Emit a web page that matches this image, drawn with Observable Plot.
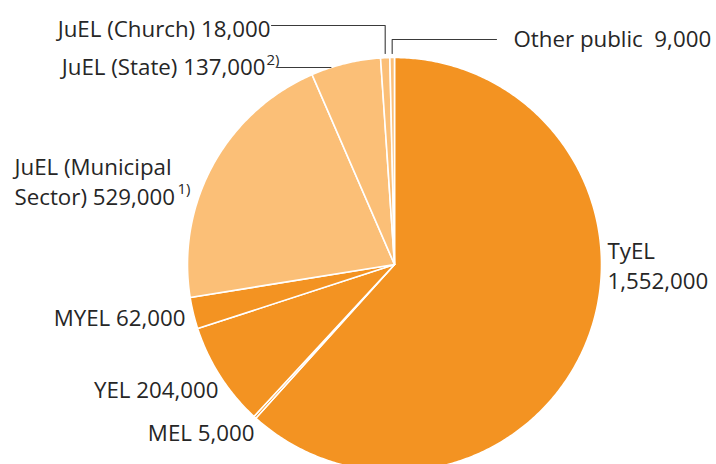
<!DOCTYPE html>
<html>
<head>
<meta charset="utf-8">
<script src="https://cdn.jsdelivr.net/npm/d3@7"></script>
<script src="https://cdn.jsdelivr.net/npm/@observablehq/plot@0.6"></script>
<style>
  html, body { margin: 0; padding: 0; background: #fff; }
  #chart svg { display: block; }
</style>
</head>
<body>
<div id="chart"></div>
<script>
// ---- data ----
const names  = ["TyEL", "MEL", "YEL", "MYEL", "JuEL (Municipal Sector)", "JuEL (State)", "JuEL (Church)", "Other public"];
const values = [1552000, 5000, 204000, 62000, 529000, 137000, 18000, 9000];
const sectors = ["private", "private", "private", "private", "public", "public", "public", "public"];
const notes  = ["", "", "", "", "1)", "2)", "", ""];

// ---- layout (pixel offsets from pie centre, y up) ----
const W = 716, H = 464, CX = 394, CY = 264, R = 207;
const font = "Open Sans";
const fs = 22.3;
const fmt = d3.format(",");

const labelLayout = [
  {i: 0, text: (n, v) => `${n}\n${fmt(v)}`, x: 607, y: 288, anchor: "start"},
  {i: 1, text: (n, v) => `${n} ${fmt(v)}`, x: 254, y: 440, anchor: "end"},
  {i: 2, text: (n, v) => `${n} ${fmt(v)}`, x: 218, y: 397, anchor: "end"},
  {i: 3, text: (n, v) => `${n} ${fmt(v)}`, x: 185, y: 325, anchor: "end"},
  {i: 4, text: (n, v) => `JuEL (Municipal\nSector) ${fmt(v)}`, x: 14, y: 204, anchor: "start", sup: {x: 177, y: 193}},
  {i: 5, text: (n, v) => `${n} ${fmt(v)}`, x: 265, y: 74, anchor: "end", sup: {x: 266, y: 64}},
  {i: 6, text: (n, v) => `${n} ${fmt(v)}`, x: 270, y: 36, anchor: "end"},
  {i: 7, text: (n, v) => `${n}\u00a0 ${fmt(v)}`, x: 513, y: 46, anchor: "start"}
];

// ---- pie geometry from values ----
const arcs = d3.pie().sort(null).value(d => d)(values);
const slicePts = [];
arcs.forEach((a, i) => {
  const n = Math.max(2, Math.ceil((a.endAngle - a.startAngle) / 0.01));
  slicePts.push({k: i, x: 0, y: 0, s: sectors[i]});
  for (let j = 0; j <= n; j++) {
    const t = a.startAngle + (a.endAngle - a.startAngle) * j / n;
    slicePts.push({k: i, x: R * Math.sin(t), y: R * Math.cos(t), s: sectors[i]});
  }
  slicePts.push({k: i, x: 0, y: 0, s: sectors[i]});
});

const mid = i => (arcs[i].startAngle + arcs[i].endAngle) / 2;
const px = x => x - CX, py = y => CY - y;

// leader lines
const churchX = R * Math.sin(mid(6));
const otherX = R * Math.sin(mid(7));
const stateY = py(67);
const stateX = -Math.sqrt(R * R - stateY * stateY);
const leaders = [
  {k: "church", x: px(271), y: py(25)}, {k: "church", x: churchX, y: py(25)}, {k: "church", x: churchX, y: R + 4},
  {k: "other", x: otherX, y: R + 4}, {k: "other", x: otherX, y: py(39)}, {k: "other", x: px(496), y: py(39)},
  {k: "state", x: px(277), y: stateY}, {k: "state", x: stateX, y: stateY}
];

const labels = labelLayout.map(l => ({
  t: l.text(names[l.i], values[l.i]), x: px(l.x), y: py(l.y), anchor: l.anchor
}));
const sups = labelLayout.filter(l => l.sup).map(l => ({t: notes[l.i], x: px(l.sup.x), y: py(l.sup.y)}));

const chart = Plot.plot({
  width: W, height: H,
  margin: 0,
  x: {domain: [-CX, W - CX], range: [0, W], axis: null},
  y: {domain: [CY - H, CY], range: [H, 0], axis: null},
  color: {domain: ["private", "public"], range: ["#F39322", "#FBBF77"]},
  style: {fontFamily: font, background: "#fff"},
  marks: [
    Plot.line(slicePts, {x: "x", y: "y", z: "k", fill: "s", stroke: "white", strokeWidth: 1.6, strokeLinejoin: "round", curve: "linear"}),
    Plot.line(leaders, {x: "x", y: "y", z: "k", stroke: "#3a3a3a", strokeWidth: 1.1}),
    Plot.text(labels.filter(d => d.anchor === "end"), {x: "x", y: "y", text: "t", textAnchor: "end", lineAnchor: "bottom", fontSize: fs, fill: "#262626", lineHeight: 1.32}),
    Plot.text(labels.filter(d => d.anchor === "start"), {x: "x", y: "y", text: "t", textAnchor: "start", lineAnchor: "bottom", fontSize: fs, fill: "#262626", lineHeight: 1.32}),
    Plot.text(sups, {x: "x", y: "y", text: "t", textAnchor: "start", lineAnchor: "bottom", fontSize: 15, fill: "#262626"})
  ]
});
document.getElementById("chart").appendChild(chart);
</script>
</body>
</html>
